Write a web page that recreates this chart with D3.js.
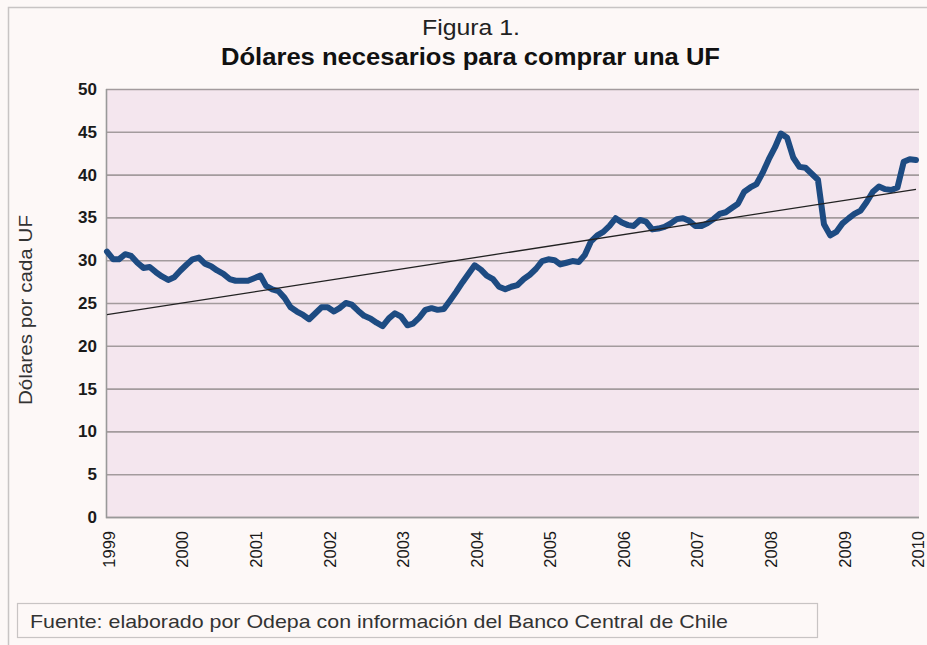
<!DOCTYPE html>
<html>
<head>
<meta charset="utf-8">
<script src="https://cdn.jsdelivr.net/npm/d3@7"></script>
<style>
  body { margin: 0; background: #fdf8f7; }
  svg { display: block; font-family: "Liberation Sans", Arial, sans-serif; }
</style>
</head>
<body>
<div id="chart"></div>
<script>
// monthly values, Jan 1999 .. Jan 2010
var values1999 = [31.0, 30.1, 30.1, 30.7, 30.5, 29.7, 29.1, 29.2, 28.6, 28.1, 27.7, 28.0];
var values2000 = [28.8, 29.5, 30.1, 30.3, 29.6, 29.3, 28.8, 28.4, 27.8, 27.6, 27.6, 27.6];
var values2001 = [27.9, 28.2, 27.0, 26.6, 26.4, 25.6, 24.5, 24.0, 23.6, 23.1, 23.8, 24.5];
var values2002 = [24.5, 24.0, 24.4, 25.0, 24.8, 24.1, 23.5, 23.2, 22.7, 22.3, 23.2, 23.8];
var values2003 = [23.4, 22.4, 22.6, 23.3, 24.2, 24.4, 24.2, 24.3, 25.3, 26.3, 27.4, 28.4];
var values2004 = [29.4, 28.9, 28.2, 27.8, 26.9, 26.6, 26.9, 27.1, 27.8, 28.3, 29.0, 29.9];
var values2005 = [30.1, 30.0, 29.5, 29.7, 29.9, 29.8, 30.6, 32.2, 32.9, 33.3, 34.0, 34.9];
var values2006 = [34.4, 34.1, 34.0, 34.7, 34.5, 33.6, 33.7, 33.9, 34.3, 34.8, 34.9, 34.6];
var values2007 = [34.0, 34.0, 34.3, 34.8, 35.4, 35.6, 36.1, 36.6, 38.0, 38.5, 38.9, 40.2];
var values2008 = [41.8, 43.2, 44.8, 44.3, 42.0, 40.9, 40.8, 40.1, 39.4, 34.2, 32.9, 33.3];
var values2009 = [34.3, 34.9, 35.4, 35.8, 36.8, 38.0, 38.6, 38.3, 38.2, 38.5, 41.5, 41.8];
var values2010 = [41.7];

var years = ["1999", "2000", "2001", "2002", "2003", "2004", "2005", "2006", "2007", "2008", "2009", "2010"];
var yTicks = [0, 5, 10, 15, 20, 25, 30, 35, 40, 45, 50];

var figLabel = "Figura 1.";
var title = "Dólares necesarios para comprar una UF";
var yTitle = "Dólares por cada UF";
var source = "Fuente: elaborado por Odepa con información del Banco Central  de Chile";

var width = 927, height = 645;
var plot = {left: 106, right: 919, top: 89, bottom: 517};

var allValues = [].concat(values1999, values2000, values2001, values2002, values2003, values2004,
    values2005, values2006, values2007, values2008, values2009, values2010);
var data = allValues.map(function(v, i) { return {date: new Date(1999, i, 1), value: v, i: i}; });

var svg = d3.select("#chart").append("svg")
    .attr("width", width)
    .attr("height", height);

//outer frame
svg.append("rect")
    .attr("x", 8.5).attr("y", 7.5)
    .attr("width", 940).attr("height", 660)
    .attr("fill", "#fdf8f7")
    .attr("stroke", "#c8c4c4")
    .attr("stroke-width", 1.5);

//scales
var x = d3.scaleTime()
    .domain([new Date(1999, 0, 1), new Date(2010, 0, 1)])
    .range([plot.left + 1, plot.right - 3]);

var y = d3.scaleLinear()
    .domain([0, 50])
    .range([plot.bottom, plot.top]);

//plot area
svg.append("rect")
    .attr("x", plot.left).attr("y", plot.top)
    .attr("width", plot.right - plot.left).attr("height", plot.bottom - plot.top)
    .attr("fill", "#f4e6ee");

//grid lines
svg.append("g").selectAll("line")
    .data(yTicks)
    .enter()
    .append("line")
        .attr("x1", plot.left).attr("x2", plot.right)
        .attr("y1", d => y(d) + 0.5).attr("y2", d => y(d) + 0.5)
        .style("stroke", "#a39b9d")
        .style("stroke-width", 1.6);

//plot border (left and bottom)
svg.append("path")
    .attr("d", "M" + (plot.left + 0.5) + "," + plot.top + "V" + (plot.bottom + 0.5) + "H" + plot.right)
    .attr("fill", "none")
    .attr("stroke", "#999")
    .attr("stroke-width", 1.6);

//y tick labels
svg.append("g").selectAll("text")
    .data(yTicks)
    .enter()
    .append("text")
        .attr("x", 97)
        .attr("y", d => y(d) + 6)
        .attr("text-anchor", "end")
        .text(d => d)
        .style("font-size", "17px")
        .style("font-weight", "bold")
        .style("fill", "#1a1a1a");

//x tick labels
svg.append("g").selectAll("text")
    .data(years)
    .enter()
    .append("text")
        .attr("transform", d => "translate(" + (x(new Date(+d, 0, 1)) + 8) + ",531) rotate(-90)")
        .attr("text-anchor", "end")
        .text(d => d)
        .style("font-size", "16.5px")
        .style("fill", "#1a1a1a");

//trendline (least squares on the monthly values)
var n = data.length;
var mx = d3.mean(data, d => d.i), my = d3.mean(data, d => d.value);
var slope = d3.sum(data, d => (d.i - mx) * (d.value - my)) / d3.sum(data, d => (d.i - mx) * (d.i - mx));
var intercept = my - slope * mx;
var trend = [data[0], data[n - 1]].map(d => ({date: d.date, value: intercept + slope * d.i}));

//series line
var line = d3.line()
    .x(d => x(d.date))
    .y(d => y(d.value));

svg.append("path")
    .datum(data)
    .attr("d", line)
    .attr("fill", "none")
    .attr("stroke", "#1d4b82")
    .attr("stroke-width", 6)
    .attr("stroke-linejoin", "round")
    .attr("stroke-linecap", "round");

svg.append("path")
    .datum(trend)
    .attr("d", d3.line().x(d => x(d.date)).y(d => y(d.value)))
    .attr("fill", "none")
    .attr("stroke", "#222")
    .attr("stroke-width", 1.3);

//titles
svg.append("text")
    .attr("x", 422).attr("y", 35)
    .attr("textLength", 98)
    .attr("lengthAdjust", "spacingAndGlyphs")
    .text(figLabel)
    .style("font-size", "22px")
    .style("fill", "#222");

svg.append("text")
    .attr("x", 221).attr("y", 65)
    .attr("textLength", 499)
    .attr("lengthAdjust", "spacingAndGlyphs")
    .text(title)
    .style("font-size", "23px")
    .style("font-weight", "bold")
    .style("fill", "#111");

svg.append("text")
    .attr("transform", "translate(32,405) rotate(-90)")
    .attr("textLength", 190)
    .attr("lengthAdjust", "spacingAndGlyphs")
    .text(yTitle)
    .style("font-size", "18px")
    .style("fill", "#333");

//source box
svg.append("rect")
    .attr("x", 17.5).attr("y", 603.5)
    .attr("width", 800).attr("height", 34)
    .attr("fill", "#fdf8f7")
    .attr("stroke", "#c8c4c4")
    .attr("stroke-width", 1.2);

svg.append("text")
    .attr("x", 30).attr("y", 628)
    .attr("textLength", 698)
    .attr("lengthAdjust", "spacingAndGlyphs")
    .text(source)
    .style("font-size", "19px")
    .style("fill", "#333");
</script>
</body>
</html>
